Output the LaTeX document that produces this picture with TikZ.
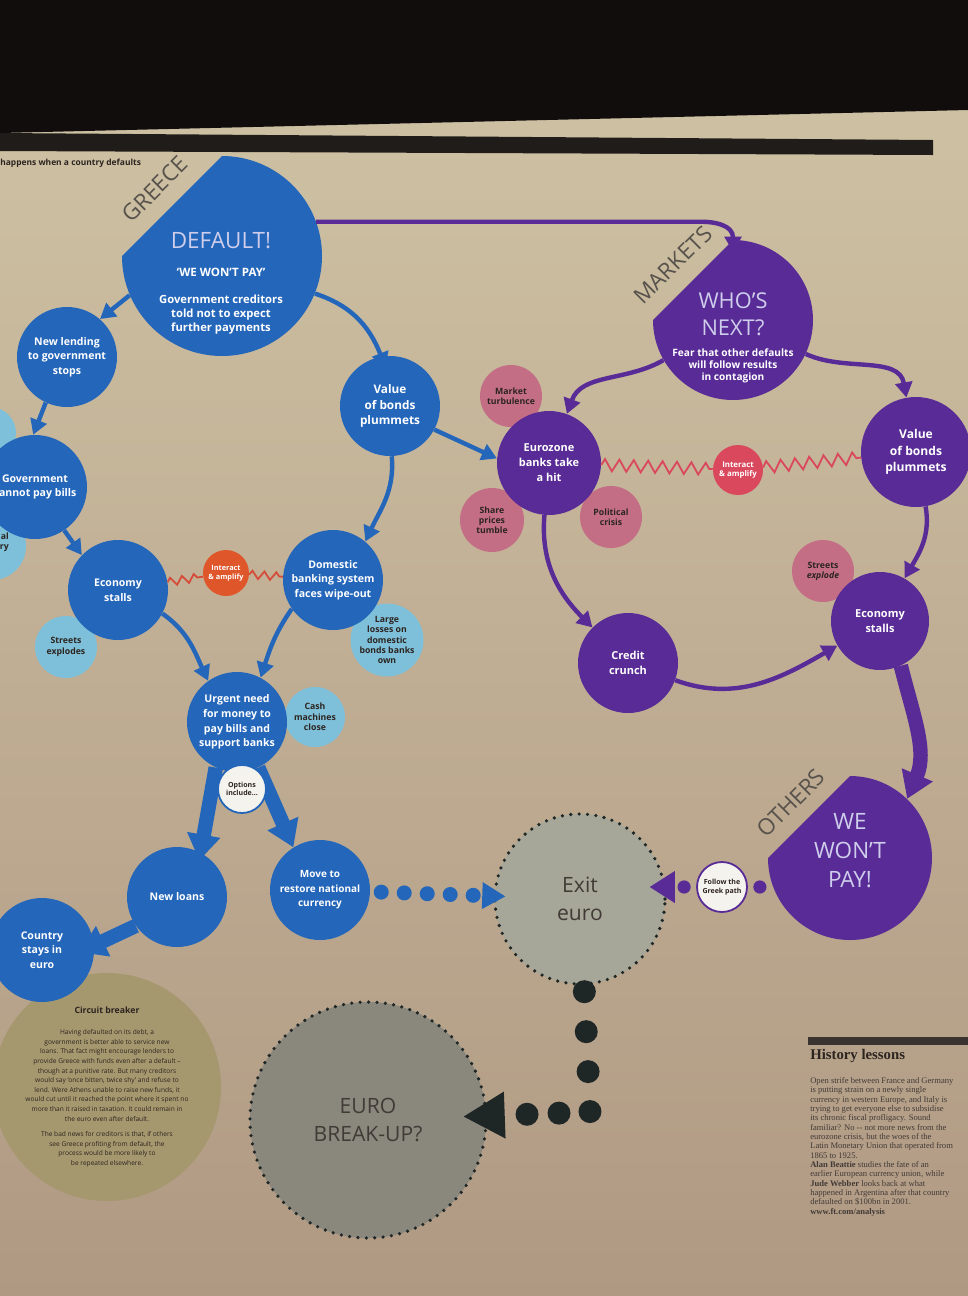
\documentclass[tikz,border=0pt]{standalone}
\usepackage{fontspec}
\setmainfont{Open Sans}
\newfontfamily\histfont{Liberation Serif}
\usetikzlibrary{arrows.meta, positioning, decorations.pathmorphing}

\definecolor{paperhi}{RGB}{206,193,163}
\definecolor{paperlo}{RGB}{176,153,131}
\definecolor{photodark}{RGB}{16,13,12}
\definecolor{rulegrey}{RGB}{32,28,26}
\definecolor{gblue}{RGB}{36,102,186}
\definecolor{lblue}{RGB}{126,192,217}
\definecolor{gorange}{RGB}{222,86,42}
\definecolor{zigred}{RGB}{214,76,58}
\definecolor{mpurple}{RGB}{89,43,150}
\definecolor{mpink}{RGB}{196,110,134}
\definecolor{mred}{RGB}{218,72,94}
\definecolor{exitgrey}{RGB}{166,167,152}
\definecolor{breakgrey}{RGB}{138,135,125}
\definecolor{dotdark}{RGB}{30,38,38}
\definecolor{circfill}{RGB}{166,152,110}
\definecolor{inkdark}{RGB}{44,36,32}
\definecolor{titlelav}{RGB}{206,206,236}
\definecolor{labelgrey}{RGB}{88,82,76}
\definecolor{histbar}{RGB}{58,52,48}

\begin{document}
\begin{tikzpicture}[x=0.25mm, y=0.25mm,
  bub/.style={circle, inner sep=0pt, minimum size=#1*0.5mm, align=center},
  bluebub/.style={bub=#1, fill=gblue, text=white, font=\bfseries\fontsize{7.5}{10.4}\selectfont},
  purbub/.style={bub=#1, fill=mpurple, text=white, font=\bfseries\fontsize{7.8}{10.6}\selectfont},
  lightbub/.style={bub=#1, fill=lblue, text=inkdark, font=\bfseries\fontsize{6.2}{7.4}\selectfont},
  pinkbub/.style={bub=#1, fill=mpink, text=inkdark, font=\bfseries\fontsize{6.2}{7.2}\selectfont},
  ringbub/.style={bub=#1, fill=white!80!paperhi, line width=0.45mm, text=inkdark, font=\bfseries\fontsize{5}{6}\selectfont},
  greybub/.style={bub=#1, draw=dotdark, line width=0.9mm, dash pattern=on 0pt off 2.1mm, line cap=round, text=inkdark!90, font=\fontsize{15}{20}\selectfont},
  sidelabel/.style={rotate=45, inner sep=1pt, text=labelgrey, font=\fontsize{16}{16}\selectfont},
  bigtitle/.style={align=center, text=white, font=\bfseries\fontsize{8}{10}\selectfont},
  link/.style={line width=1.1mm, -{Triangle[length=3.8mm, width=4.2mm]}},
  fatlink/.style={line width=3.6mm, -{Triangle[length=6.5mm, width=8mm]}},
  zig/.style={decorate, decoration={zigzag, segment length=3mm, amplitude=1mm}, line width=0.45mm},
  bluedots/.style={draw=gblue, line width=3.75mm, dash pattern=on 0pt off 5.75mm, line cap=round, shorten <=2.75mm, shorten >=-3mm, -{Triangle[length=5.75mm, width=6.75mm, line width=0pt]}},
  darkdots/.style={draw=dotdark, line width=5.75mm, dash pattern=on 0pt off #1, line cap=round},
  purdots/.style={draw=mpurple, line width=3.3mm, dash pattern=on 0pt off 25mm, line cap=round, shorten <=3mm},
]
\useasboundingbox (0,0) rectangle (968,-1296);
\clip (0,0) rectangle (968,-1296);

% paper and the dark edge of the photo
\shade[top color=paperhi, bottom color=paperlo] (0,-100) rectangle (968,-1296);
\fill[photodark] (0,0) -- (968,0) -- (968,-110) -- (0,-133) -- cycle;
\fill[rulegrey] (0,-133) -- (933,-140) -- (933,-155) -- (0,-151) -- cycle;
\node[anchor=west, inner sep=0pt, text=inkdark, font=\bfseries\fontsize{6}{7}\selectfont] (hdr) at (0,-163) {happens when a country defaults};

% small side circles
\node[lightbub=26] (lighta) at (-10,-433) {};
\node[lightbub=34] (lightb) at (-8,-546) {};
\node[anchor=east, align=right, inner sep=0pt, text=inkdark, font=\bfseries\fontsize{6.2}{7.4}\selectfont] (lightb-txt) at (9,-542) {al\\ry};
\node[lightbub=31] (streetsb) at (66,-647) {Streets\\explodes};
\node[lightbub=33] (losses) at (387,-640) {Large\\losses on\\domestic\\bonds banks\\own};
\node[lightbub=30] (cash) at (315,-717) {Cash\\machines\\close};
\node[pinkbub=31] (mturb) at (511,-396) {Market\\turbulence};
\node[pinkbub=32] (share) at (492,-520) {Share\\prices\\tumble};
\node[pinkbub=31] (polit) at (611,-517) {Political\\crisis};
\node[pinkbub=31] (pstreets) at (823,-571) {Streets\\\textit{explode}};

% Greece
\coordinate (dflt-c) at (222,-256);
\fill[gblue] (dflt-c) ++(180:100) arc[start angle=180, end angle=450, radius=100] -- cycle;
\node[bub=100] (dflt) at (dflt-c) {};
\node[bigtitle] (dflt-lbl) at (221,-283) {{\mdseries\fontsize{16}{18}\selectfont\color{titlelav}DEFAULT!}\\[10pt]
  {\fontsize{8.2}{10}\selectfont`WE WON'T PAY'}\\[9pt]
  Government creditors\\told not to expect\\further payments};
\node[sidelabel] (greece) at (155,-189) {GREECE};

\node[bluebub=50] (nlend) at (67,-357) {New lending\\to government\\stops};
\node[bluebub=50, font=\bfseries\fontsize{8.4}{11}\selectfont] (bval) at (390,-406) {Value\\of bonds\\plummets};
\node[bluebub=52] (govt) at (35,-487) {Government\\cannot pay bills};
\node[bluebub=50] (econ) at (118,-590) {Economy\\stalls};
\node[bub=23, fill=gorange, text=white, font=\bfseries\fontsize{5.2}{6.2}\selectfont] (interb) at (226,-573) {Interact\\\& amplify};
\node[bluebub=50] (domb) at (333,-580) {Domestic\\banking system\\faces wipe-out};
\node[bluebub=50] (urgent) at (237,-722) {Urgent need\\for money to\\pay bills and\\support banks};
\node[bluebub=50] (newloans) at (177,-897) {New loans};
\node[bluebub=50, font=\bfseries\fontsize{7.1}{10.4}\selectfont] (restore) at (320,-890) {Move to\\restore national\\currency};
\node[bub=105, fill=circfill, text=inkdark, font=\fontsize{4.7}{6.85}\selectfont] (circuit) at (107,-1087) {{\bfseries\fontsize{6.2}{7}\selectfont Circuit breaker}\\[8pt]
  Having defaulted on its debt, a\\
  government is better able to service new\\
  loans. That fact might encourage lenders to\\
  provide Greece with funds even after a default --\\
  though at a punitive rate. But many creditors\\
  would say `once bitten, twice shy' and refuse to\\
  lend. Were Athens unable to raise new funds, it\\
  would cut until it reached the point where it spent no\\
  more than it raised in taxation. It could remain in\\
  the euro even after default.\\[4pt]
  The bad news for creditors is that, if others\\
  see Greece profiting from default, the\\
  process would be more likely to\\
  be repeated elsewhere.};
\node[bluebub=52] (stays) at (42,-950) {Country\\stays in\\euro};

% Markets
\coordinate (who-c) at (733,-320);
\fill[mpurple] (who-c) ++(180:80) arc[start angle=180, end angle=450, radius=80] -- cycle;
\node[bub=80] (who) at (who-c) {};
\node[bigtitle, font=\bfseries\fontsize{7.2}{8.6}\selectfont] (who-lbl) at (733,-338) {{\mdseries\fontsize{15.5}{18}\selectfont\color{titlelav}WHO'S}\\[7pt]
  {\mdseries\fontsize{15.5}{18}\selectfont\color{titlelav}NEXT?}\\[6pt]
  Fear that other defaults\\will follow results\\in contagion};
\node[sidelabel] (markets) at (673,-265) {MARKETS};

\node[purbub=52] (ezb) at (549,-463) {Eurozone\\banks take\\a hit};
\node[bub=25, fill=mred, text=white, font=\bfseries\fontsize{5.6}{6.6}\selectfont] (interp) at (738,-470) {Interact\\\& amplify};
\node[purbub=55, font=\bfseries\fontsize{8.6}{11.6}\selectfont] (pval) at (916,-452) {Value\\of bonds\\plummets};
\node[purbub=50] (credit) at (628,-663) {Credit\\crunch};
\node[purbub=49] (pecon) at (880,-621) {Economy\\stalls};

% Others
\coordinate (wwp-c) at (850,-858);
\fill[mpurple] (wwp-c) ++(180:82) arc[start angle=180, end angle=450, radius=82] -- cycle;
\node[bub=82] (wwp) at (wwp-c) {};
\node[align=center, text=titlelav, font=\fontsize{16}{20.6}\selectfont] (wwp-lbl) at (850,-851) {WE\\WON'T\\PAY!};
\node[sidelabel] (others) at (791,-803) {OTHERS};

% where it ends
\node[greybub=85, fill=exitgrey] (exit) at (580,-899) {Exit\\euro};
\node[greybub=118, fill=breakgrey] (breakup) at (368,-1120) {EURO\\BREAK-UP?};
\coordinate (bcorner) at (590,-1112);

% Greek chain
\draw[link, gblue] (dflt.203) -- (nlend.49);
\draw[link, gblue] (nlend.245) -- (govt.92);
\draw[link, gblue] (govt.-56) -- (econ.136);
\draw[link, gblue, shorten >=-3mm] (dflt.-22) to[bend left=25] (bval.100);
\draw[link, gblue] (bval.-88) to[out=-85, in=65] (domb.50);
\draw[link, gblue] (bval.-28) -- (ezb.175);
\draw[link, gblue] (econ.-28) to[out=-35, in=115] (urgent.125);
\draw[link, gblue] (domb.215) to[out=235, in=72] (urgent.62);
\draw[fatlink, gblue, shorten >=-2mm] (urgent.245) -- (newloans.62);
\draw[fatlink, gblue] (urgent.-65) -- (restore.122);
\draw[fatlink, gblue, shorten >=-4mm] (newloans.215) -- (stays.5);
\draw[zig, zigred] (econ) -- (interb);
\draw[zig, zigred] (interb) -- (domb);

% contagion loop
\draw[link, mpurple, shorten >=-3mm] (dflt.20) -- ++(385,0) to[out=0, in=90] (who.north);
\draw[link, mpurple] (who) to[out=210, in=70] (ezb);
\draw[link, mpurple] (who) to[out=-25, in=100] (pval);
\draw[link, mpurple] (ezb) to[out=-95, in=135] (credit);
\draw[link, mpurple] (credit) to[out=-20, in=210] (pecon);
\draw[link, mpurple] (pval) to[out=-80, in=60] (pecon);
\draw[fatlink, mpurple] (pecon.-65) to[out=-76, in=67] (wwp.46);
\draw[zig, mred, decoration={segment length=3.6mm, amplitude=1.5mm}] (ezb) -- (interp);
\draw[zig, mred, decoration={segment length=3.6mm, amplitude=1.5mm}] (interp) -- (pval);

\node[ringbub=24, draw=gblue] (options) at (242,-789) {Options\\include\ldots};
\node[ringbub=25, draw=mpurple] (greek) at (722,-887) {Follow the\\Greek path};

% exits
\draw[bluedots] (restore) -- (exit);
\draw[darkdots=10mm, shorten <=1.5mm] (exit) -- (bcorner);
\draw[darkdots=8mm, shorten <=7.75mm, shorten >=-6mm, -{Triangle[length=10.25mm, width=11.75mm, line width=0pt]}] (bcorner) -- (breakup);
\draw[purdots] (greek.east) -- (greek.east -| wwp.west);
\draw[purdots, shorten >=-4.25mm, -{Triangle[length=6.25mm, width=8mm, line width=0pt]}] (greek.west) -- (greek.west -| exit.east);

% side box
\fill[histbar] (808,-1037) rectangle (968,-1045);
\node[anchor=south west, inner sep=0pt, text=inkdark, font=\histfont\bfseries\fontsize{10.5}{12}\selectfont] (hist-title) at (810,-1063) {History lessons};
\node[anchor=north west, inner sep=0pt, align=left, text=inkdark!90, font=\histfont\fontsize{6.1}{6.65}\selectfont] (hist-body) at (810,-1077) {Open strife between France and Germany\\
  is putting strain on a newly single\\
  currency in western Europe, and Italy is\\
  trying to get everyone else to subsidise\\
  its chronic fiscal profligacy. Sound\\
  familiar? No -- not more news from the\\
  eurozone crisis, but the woes of the\\
  Latin Monetary Union that operated from\\
  1865 to 1925.\\
  \textbf{Alan Beattie} studies the fate of an\\
  earlier European currency union, while\\
  \textbf{Jude Webber} looks back at what\\
  happened in Argentina after that country\\
  defaulted on \$100bn in 2001.\\
  \textbf{www.ft.com/analysis}};
\end{tikzpicture}
\end{document}
